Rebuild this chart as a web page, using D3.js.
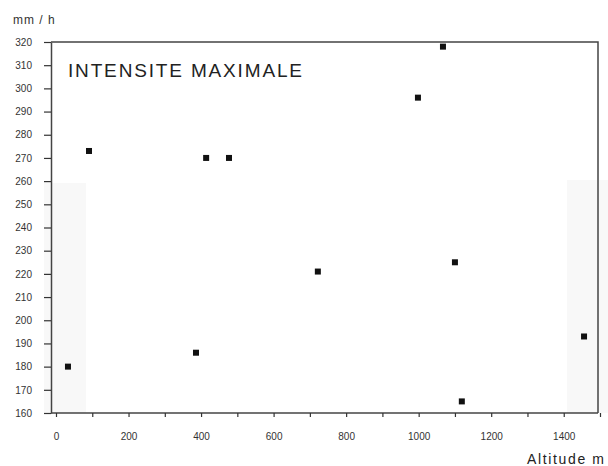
<!DOCTYPE html>
<html>
<head>
<meta charset="utf-8">
<script src="https://cdn.jsdelivr.net/npm/d3@7"></script>
<style>
  body { margin: 0; background: #fff; }
  text { font-family: "Liberation Sans", Arial, sans-serif; fill: #222; }
</style>
</head>
<body>
<svg id="my-svg" width="608" height="466"></svg>
<script>
// altitude (m) and max intensity (mm/h)
const altitude  = [33, 91, 386, 414, 477, 722, 998, 1067, 1100, 1119, 1456];
const intensity = [180, 273, 186, 270, 270, 221, 296, 318, 225, 165, 193];
const xTicks = d3.range(0, 1600, 100);
const yTicks = d3.range(160, 330, 10);

const svg = d3.select("#my-svg"),
      frame = {left: 51, right: 598, top: 42, bottom: 413};

const xScale = d3.scaleLinear().domain([0, 1500]).range([56, 600]),
      yScale = d3.scaleLinear().domain([160, 320]).range([frame.bottom, frame.top]);

// faint scan bands
svg.append("rect").attr("x", 44).attr("y", 183).attr("width", 42).attr("height", frame.bottom - 183).style("fill", "#f8f8f8");
svg.append("rect").attr("x", 567).attr("y", 180).attr("width", 41).attr("height", frame.bottom - 180).style("fill", "#f8f8f8");

// frame top + right
svg.append("path")
    .attr("d", `M${frame.left},${frame.top}H${frame.right}V${frame.bottom}`)
    .style("fill", "none").style("stroke", "#444").style("stroke-width", 1.5);

const yAxis = svg.append("g")
    .attr("transform", `translate(${frame.left},0)`)
    .call(d3.axisLeft(yScale).tickValues(yTicks).tickSize(7).tickSizeOuter(0).tickPadding(12));

const xAxis = svg.append("g")
    .attr("transform", `translate(0,${frame.bottom})`)
    .call(d3.axisBottom(xScale).tickValues(xTicks).tickSize(4).tickSizeOuter(0).tickPadding(16)
        .tickFormat(d => d % 200 === 0 && d < 1500 ? d : ""));

[xAxis, yAxis].forEach(a => {
  a.select(".domain").style("stroke", "#444").style("stroke-width", 1.5);
  a.selectAll(".tick line").style("stroke", "#333").style("stroke-width", 1.2);
  a.selectAll(".tick text").style("font-size", "10px").style("fill", "#333");
});
xAxis.select(".domain").attr("d", `M${frame.left},0H${frame.right}`);

svg.selectAll(".pt")
    .data(altitude)
    .join("rect")
    .attr("class", "pt")
    .attr("x", (d, i) => xScale(d) - 3)
    .attr("y", (d, i) => yScale(intensity[i]) - 3)
    .attr("width", 6)
    .attr("height", 6)
    .style("fill", "#111");

svg.append("text").attr("x", 68).attr("y", 77)
    .attr("textLength", 234).attr("lengthAdjust", "spacing")
    .style("font-size", "19px").text("INTENSITE MAXIMALE");

svg.append("text").attr("x", 13).attr("y", 24)
    .style("font-size", "12px").style("letter-spacing", "1px").style("fill", "#333").text("mm / h");

svg.append("text").attr("x", 527).attr("y", 464)
    .attr("textLength", 77).attr("lengthAdjust", "spacing")
    .style("font-size", "14px").text("Altitude m");
</script>
</body>
</html>
